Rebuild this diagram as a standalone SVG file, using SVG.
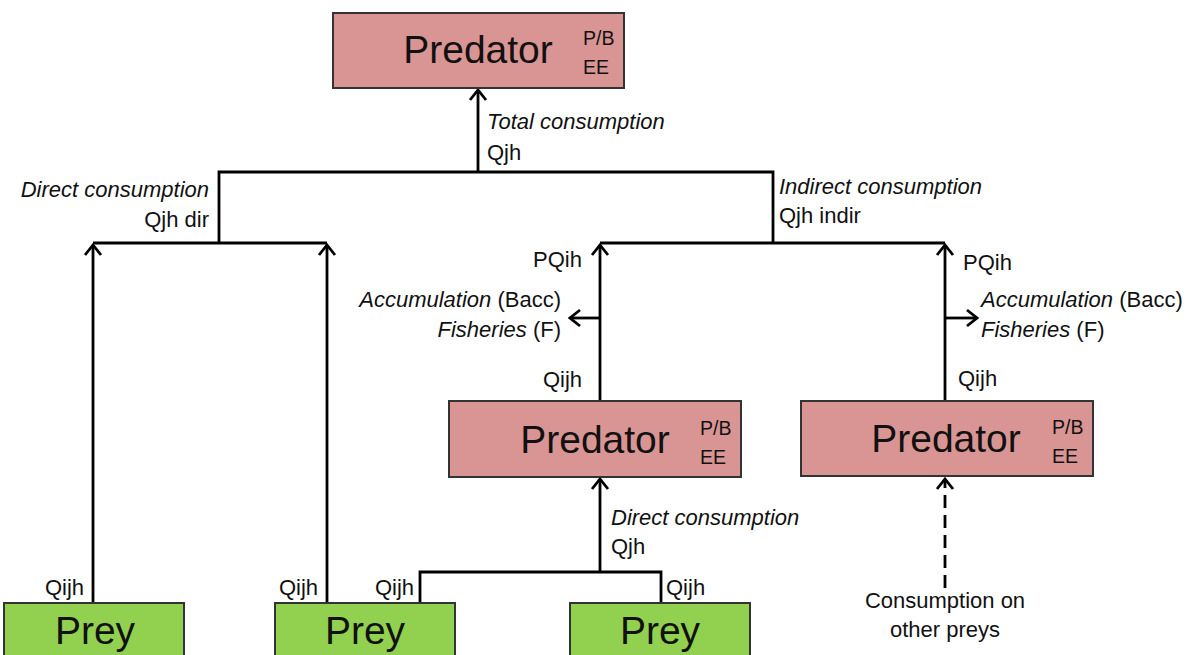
<svg xmlns="http://www.w3.org/2000/svg" width="1196" height="655" viewBox="0 0 1196 655">
<style>
.pred{fill:#d99594;stroke:#333;stroke-width:2}
.prey{fill:#92d050;stroke:#333;stroke-width:2}
.big{font-family:"Liberation Sans",Arial,sans-serif;font-size:39px;fill:#111}
.sm{font-family:"Liberation Sans",Arial,sans-serif;font-size:19.5px;fill:#111}
.lb{font-family:"Liberation Sans",Arial,sans-serif;font-size:22px;fill:#111}
.it{font-style:italic}
.ln{stroke:#000;stroke-width:2.8;fill:none}
.ar{marker-end:url(#arr)}
</style>
<defs>
<marker id="arr" markerUnits="userSpaceOnUse" viewBox="-14 -10 16 20" refX="0" refY="0" markerWidth="16" markerHeight="20" orient="auto">
<path d="M-10,-8 L0,0 L-10,8" fill="none" stroke="#000" stroke-width="2.8"/>
</marker>
</defs>
<g id="connectors">
<path class="ln" d="M219,243 V172 H773 V243"/>
<path class="ln ar" d="M478,172 V90"/>
<path class="ln" d="M93,243 H327"/>
<path class="ln ar" d="M93,603 V245"/>
<path class="ln ar" d="M327,603 V245"/>
<path class="ln" d="M600,243 H945"/>
<path class="ln ar" d="M600,401 V245"/>
<path class="ln ar" d="M945,401 V245"/>
<path class="ln ar" d="M600,318 H570"/>
<path class="ln ar" d="M945,318 H977"/>
<path class="ln" d="M420,603 V572 H661 V603"/>
<path class="ln ar" d="M600,572 V479"/>
<path class="ln ar" d="M945,588 V479" stroke-dasharray="13 7"/>
</g>
<g id="labels">
<text class="lb it" x="487" y="129">Total consumption</text>
<text class="lb" x="487" y="160">Qjh</text>
<text class="lb it" x="209" y="197" text-anchor="end">Direct consumption</text>
<text class="lb" x="209" y="227" text-anchor="end">Qjh dir</text>
<text class="lb it" x="779" y="194">Indirect consumption</text>
<text class="lb" x="779" y="223">Qjh indir</text>
<text class="lb" x="582" y="267" text-anchor="end">PQih</text>
<text class="lb" x="561" y="307" text-anchor="end"><tspan class="it">Accumulation</tspan> (Bacc)</text>
<text class="lb" x="561" y="337" text-anchor="end"><tspan class="it">Fisheries</tspan> (F)</text>
<text class="lb" x="582" y="387" text-anchor="end">Qijh</text>
<text class="lb" x="963" y="270">PQih</text>
<text class="lb" x="981" y="307"><tspan class="it">Accumulation</tspan> (Bacc)</text>
<text class="lb" x="981" y="337"><tspan class="it">Fisheries</tspan> (F)</text>
<text class="lb" x="958" y="386">Qijh</text>
<text class="lb it" x="611" y="525">Direct consumption</text>
<text class="lb" x="611" y="554">Qjh</text>
<text class="lb" x="84" y="595" text-anchor="end">Qijh</text>
<text class="lb" x="318" y="595" text-anchor="end">Qijh</text>
<text class="lb" x="414" y="595" text-anchor="end">Qijh</text>
<text class="lb" x="666" y="595">Qijh</text>
<text class="lb" x="945" y="608" text-anchor="middle">Consumption on</text>
<text class="lb" x="945" y="637" text-anchor="middle">other preys</text>
</g>
<g id="predator-top">
<rect class="pred" x="333" y="13" width="291" height="75"/>
<text class="big" x="478" y="63" text-anchor="middle">Predator</text>
<text class="sm" x="583" y="45">P/B</text>
<text class="sm" x="583" y="74">EE</text>
</g>
<g id="predator-mid">
<rect class="pred" x="449" y="401" width="292" height="76"/>
<text class="big" x="595" y="453" text-anchor="middle">Predator</text>
<text class="sm" x="700" y="435">P/B</text>
<text class="sm" x="700" y="464">EE</text>
</g>
<g id="predator-right">
<rect class="pred" x="801" y="401" width="292" height="75"/>
<text class="big" x="946" y="452" text-anchor="middle">Predator</text>
<text class="sm" x="1052" y="434">P/B</text>
<text class="sm" x="1052" y="463">EE</text>
</g>
<g id="prey-1">
<rect class="prey" x="4" y="603" width="180" height="60"/>
<text class="big" x="95" y="644" text-anchor="middle">Prey</text>
</g>
<g id="prey-2">
<rect class="prey" x="275" y="603" width="180" height="60"/>
<text class="big" x="365" y="644" text-anchor="middle">Prey</text>
</g>
<g id="prey-3">
<rect class="prey" x="570" y="603" width="180" height="60"/>
<text class="big" x="660" y="644" text-anchor="middle">Prey</text>
</g>
</svg>
